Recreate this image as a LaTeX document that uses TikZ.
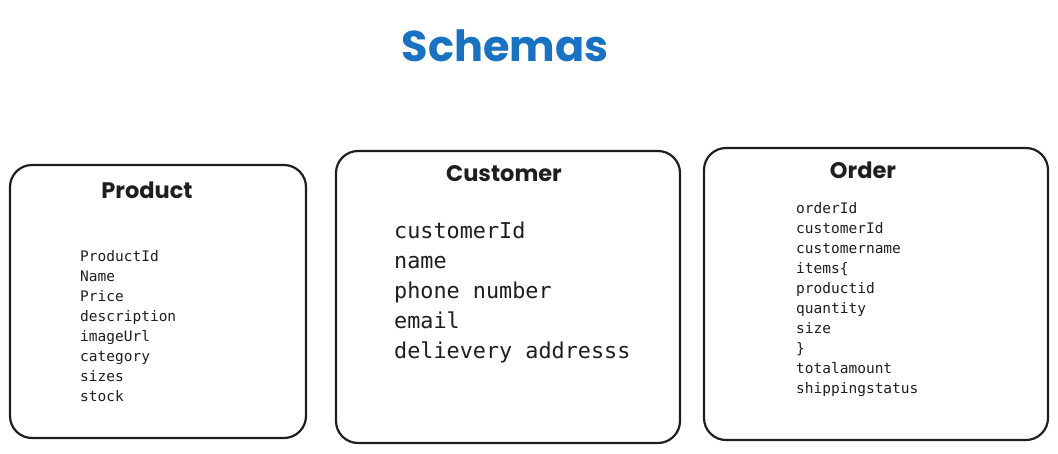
\documentclass[tikz,border=0pt]{standalone}
\usepackage{fontspec}
\setmonofont{DejaVu Sans Mono}
\newfontfamily\schhand{Poppins}
\usetikzlibrary{positioning}
\definecolor{schink}{HTML}{1E1E1E}
\definecolor{schblue}{HTML}{1971C2}
\tikzset{
  schbox/.style={
    draw=schink, line width=2.2pt, rounded corners=22pt},
  schhead/.style={anchor=base, font=\schhand\bfseries\fontsize{22.5}{27}\selectfont,
    text=schink},
  schfield/.style={anchor=base west, font=\ttfamily\fontsize{14.5}{17}\selectfont,
    text=schink, inner sep=0pt},
  schbig/.style={schfield, font=\ttfamily\fontsize{21.8}{26}\selectfont},
  every picture/.style={line cap=round},
}
\begin{document}
\begin{tikzpicture}[x=1pt, y=-1pt]
\useasboundingbox (0, 0) rectangle (1058, 453);

% Title.
\node[anchor=base, font=\schhand\bfseries\fontsize{43}{50}\selectfont,
  text=schblue] (title) at (505, 61) {Schemas};

% ------------------------------------------------------------ Product
\draw[schbox] (10, 165) rectangle (306, 438);
\node[schhead] (product) at (147, 198) {Product};
\foreach \f [count=\i from 0] in {ProductId, Name, Price, description,
    imageUrl, category, sizes, stock} {
  \node[schfield] at (80, {261 + \i * 20}) {\f};
}

% ----------------------------------------------------------- Customer
\draw[schbox] (336, 151) rectangle (680, 443);
\node[schhead] (customer) at (504, 181) {Customer};
\foreach \f [count=\i from 0] in {customerId, name, phone number, email,
    delievery addresss} {
  \node[schbig] at (394, {238 + \i * 30}) {\f};
}

% -------------------------------------------------------------- Order
\draw[schbox] (704, 148) rectangle (1048, 440);
\node[schhead] (order) at (863, 178) {Order};
\foreach \f [count=\i from 0] in {orderId, customerId, customername,
    items\{, productid, quantity, size, \}, totalamount, shippingstatus} {
  \node[schfield] at (796, {213 + \i * 20}) {\f};
}

\end{tikzpicture}
\end{document}
